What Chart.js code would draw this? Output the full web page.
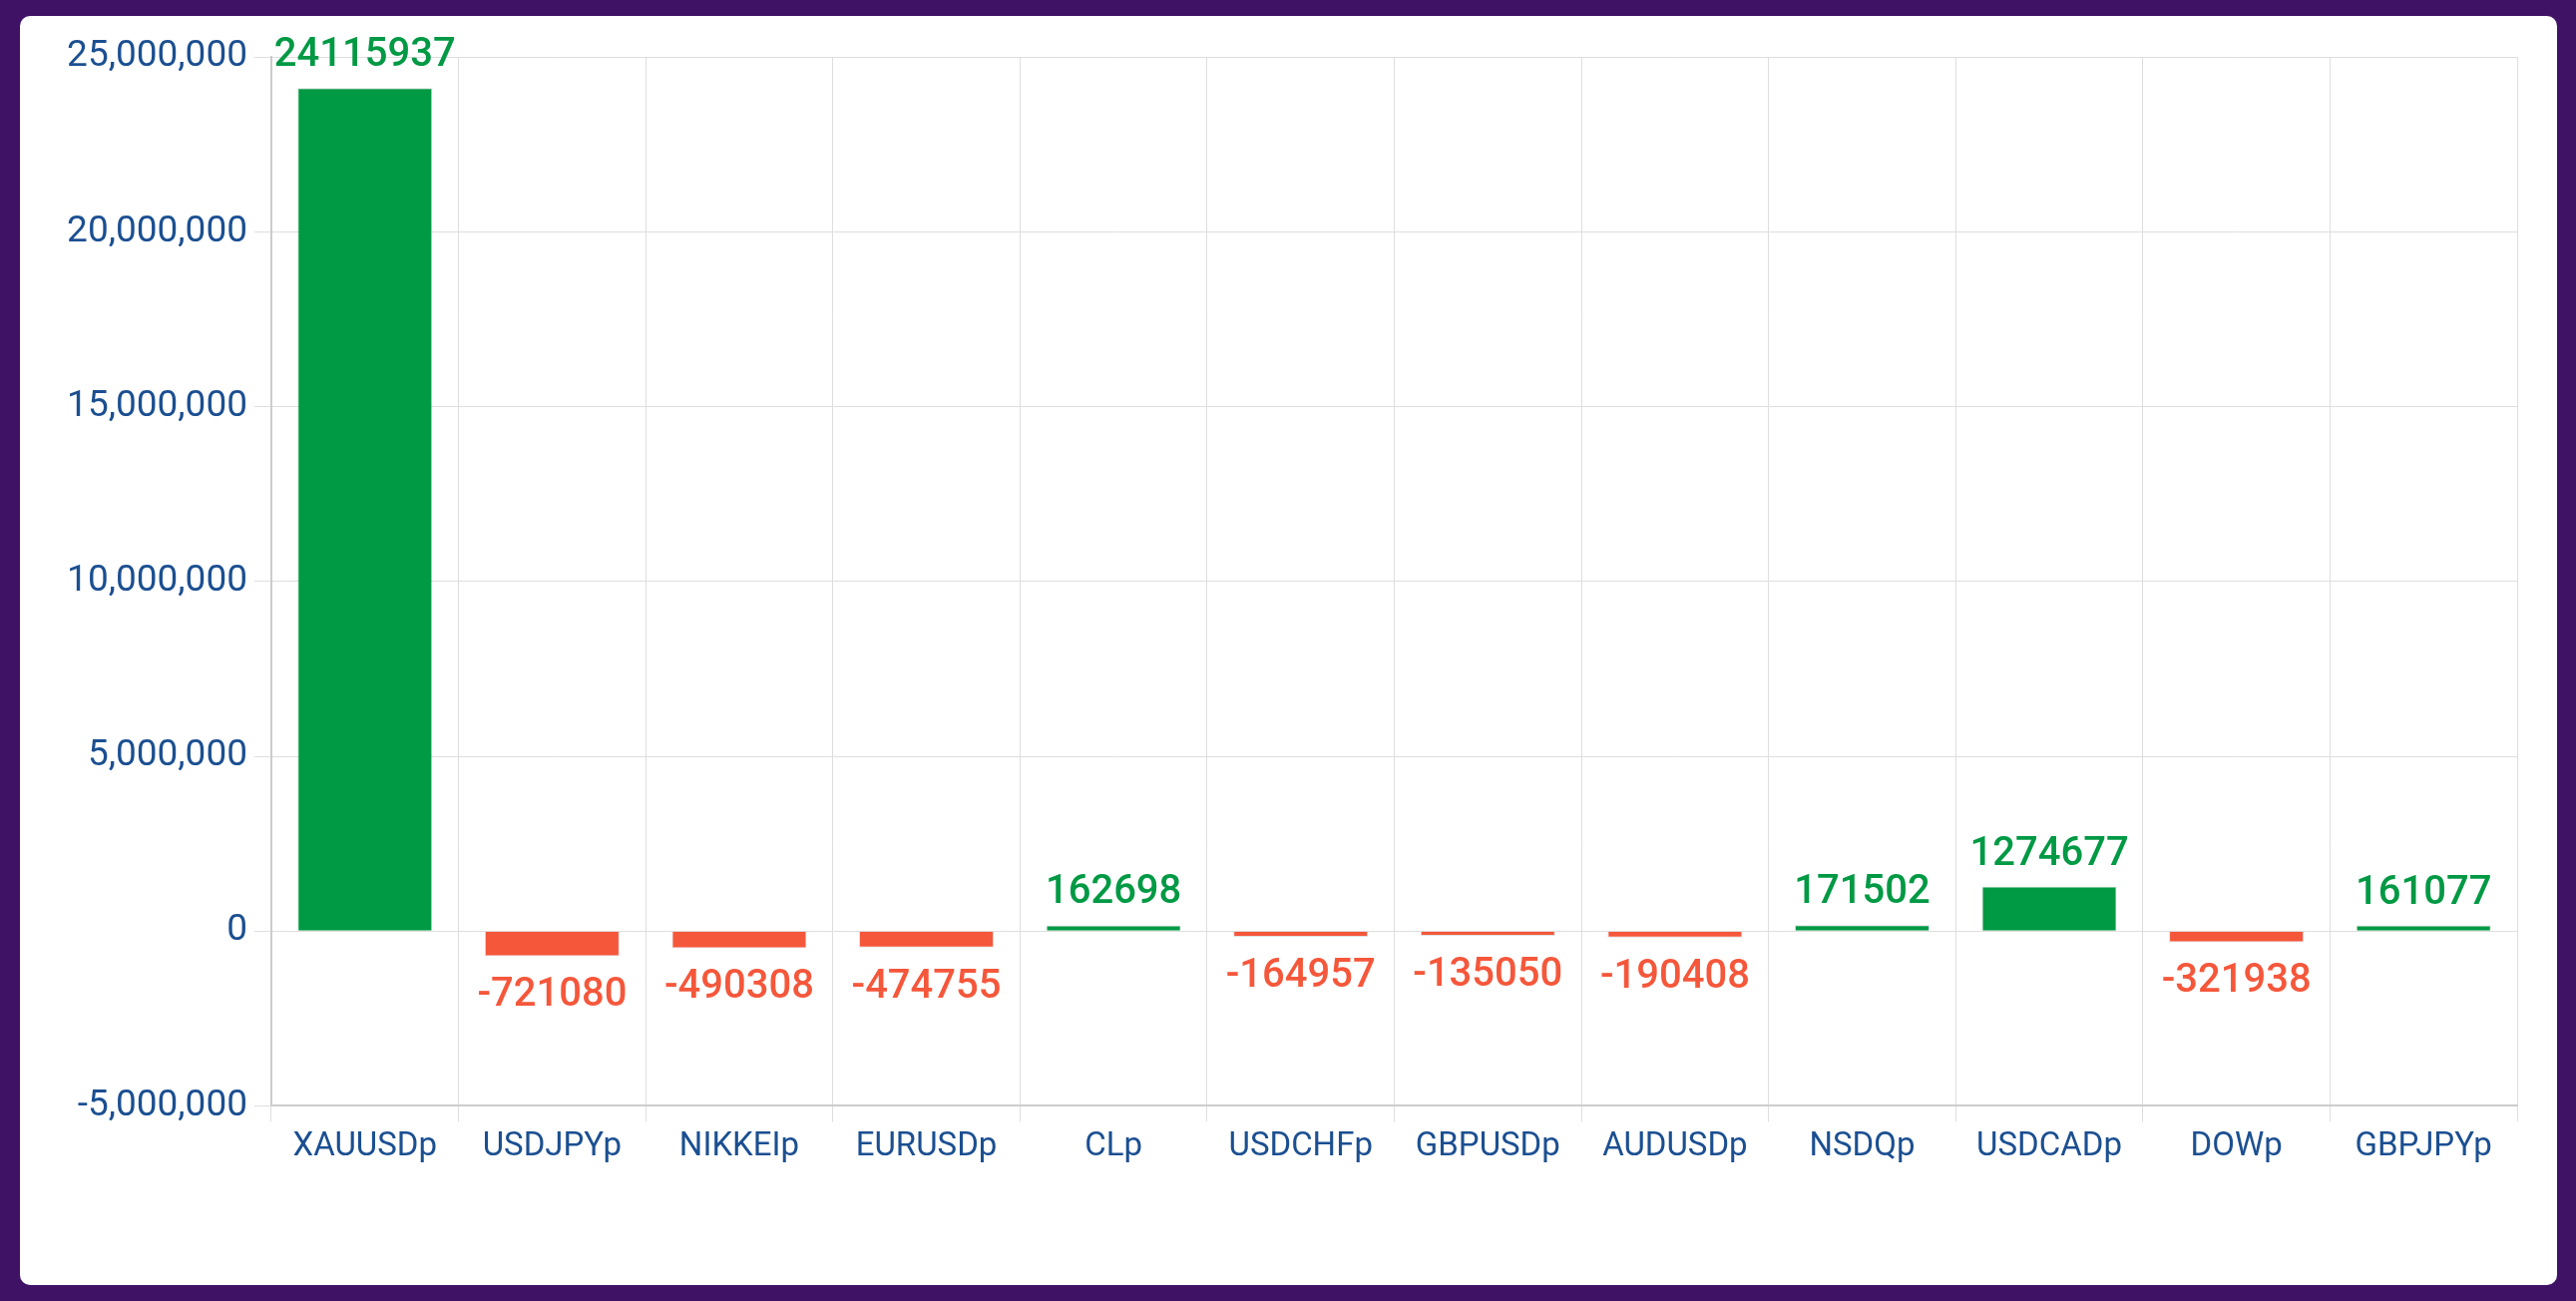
<!DOCTYPE html>
<html>
<head>
<meta charset="utf-8">
<script src="https://cdn.jsdelivr.net/npm/chart.js@4/dist/chart.umd.min.js"></script>
<style>
  html, body { margin: 0; padding: 0; }
  body { width: 2582px; height: 1304px; background: #3f1266; position: relative; overflow: hidden; }
  #card { position: absolute; left: 20px; top: 16px; width: 2543px; height: 1272px; background: #fff; border-radius: 10px; }
  #wrap { position: absolute; left: 40px; top: 28px; width: 2500px; height: 1148px; }
</style>
</head>
<body>
<div id="card"></div>
<div id="wrap"><canvas id="bar"></canvas></div>
<script>
const symbols = ["XAUUSDp", "USDJPYp", "NIKKEIp", "EURUSDp", "CLp", "USDCHFp",
  "GBPUSDp", "AUDUSDp", "NSDQp", "USDCADp", "DOWp", "GBPJPYp"];
const profits = [24115937, -721080, -490308, -474755, 162698, -164957,
  -135050, -190408, 171502, 1274677, -321938, 161077];
const yTicks = [-5000000, 0, 5000000, 10000000, 15000000, 20000000, 25000000];

const GREEN = "#009944";
const RED = "#f5573b";
const BLUE = "#1b4f91";
const FONT = "Roboto, 'Noto Sans', sans-serif";

// draws the value above / below every bar
const valueLabels = {
  id: "valueLabels",
  afterDatasetsDraw(chart) {
    const ctx = chart.ctx;
    const meta = chart.getDatasetMeta(0);
    ctx.save();
    ctx.font = "500 40px " + FONT;
    ctx.textAlign = "center";
    ctx.textBaseline = "alphabetic";
    meta.data.forEach((bar, i) => {
      const v = profits[i];
      ctx.fillStyle = v >= 0 ? GREEN : RED;
      if (v >= 0) {
        ctx.fillText(String(v), bar.x, bar.y - 22);
      } else {
        ctx.fillText(String(v), bar.x, bar.y + 50);
      }
    });
    ctx.restore();
  },
};

new Chart(document.querySelector("#bar"), {
  type: "bar",
  data: {
    labels: symbols,
    datasets: [
      {
        data: profits,
        backgroundColor: (c) => (c.raw >= 0 ? GREEN : RED),
        borderColor: "rgba(0,0,0,0.12)",
        borderWidth: 1,
      },
    ],
  },
  options: {
    responsive: true,
    maintainAspectRatio: false,
    animation: false,
    layout: { padding: { top: 0, right: 17, bottom: 0, left: 0 } },
    plugins: {
      legend: { display: false },
      tooltip: { enabled: false },
    },
    scales: {
      x: {
        grid: { color: "#dedede", offset: true, tickLength: 16 },
        border: { color: "#cccccc", width: 2 },
        ticks: { color: BLUE, font: { size: 33, family: FONT }, padding: 6 },
      },
      y: {
        min: yTicks[0],
        max: yTicks[yTicks.length - 1],
        afterBuildTicks: (s) => { s.ticks = yTicks.map((v) => ({ value: v })); },
        afterFit: (s) => { s.width = 232; },
        grid: { color: "#dedede", tickLength: 17 },
        border: { color: "#cccccc", width: 2 },
        ticks: {
          color: BLUE,
          font: { size: 37, family: FONT },
          padding: 7,
          callback: (v) => v.toLocaleString("en-US"),
        },
      },
    },
  },
  plugins: [valueLabels],
});
</script>
</body>
</html>
